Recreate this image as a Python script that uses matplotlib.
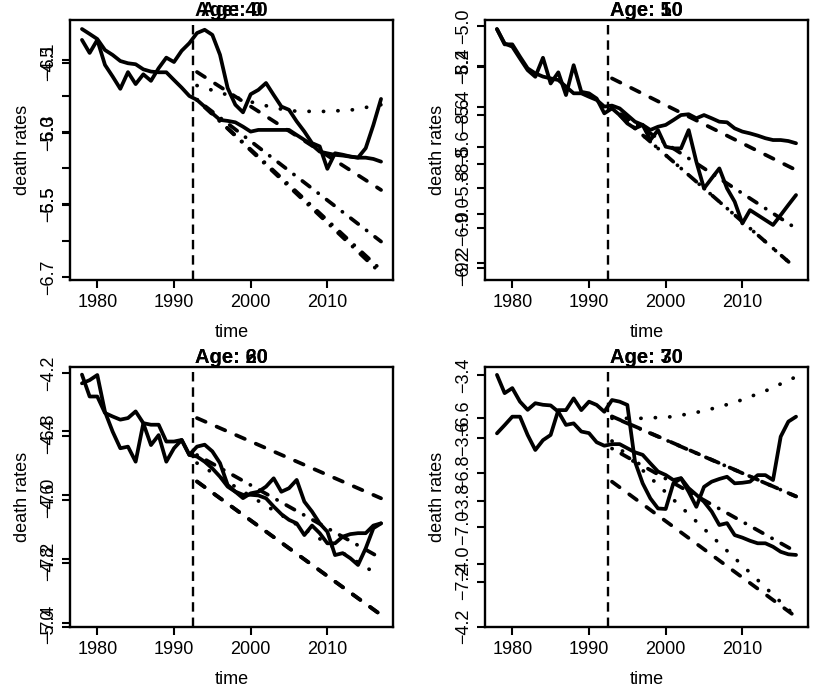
import numpy as np
import matplotlib
matplotlib.use("Agg")
import matplotlib.pyplot as plt

plt.rcParams["font.family"] = ["Liberation Sans", "DejaVu Sans"]

years = np.arange(1978, 2018)
fc_years = [1993, 2017]
curve_years = [1993, 1997, 2001, 2005, 2009, 2013, 2017]
XTICKS = [1980, 1990, 2000, 2010]
JUMP_OFF = 1992.5
M = "\u2212"

# ---- top-left: ages 0 and 40 ----
obs_age0 = [-4.259, -4.294, -4.330, -4.408, -4.443, -4.486, -4.502, -4.509, -4.545, -4.561,
            -4.566, -4.566, -4.621, -4.675, -4.734, -4.762, -4.810, -4.857, -4.904, -4.911,
            -4.921, -4.952, -4.987, -4.975, -4.975, -4.975, -4.975, -4.975, -5.011, -5.046,
            -5.082, -5.129, -5.141, -5.152, -5.157, -5.165, -5.172, -5.172, -5.181, -5.200]
obs_age40 = [-6.045, -6.081, -6.045, -6.114, -6.146, -6.180, -6.134, -6.167, -6.140, -6.158,
             -6.123, -6.094, -6.106, -6.075, -6.054, -6.026, -6.017, -6.031, -6.086, -6.178,
             -6.224, -6.245, -6.195, -6.183, -6.164, -6.197, -6.229, -6.238, -6.270, -6.298,
             -6.330, -6.339, -6.401, -6.358, -6.362, -6.367, -6.370, -6.344, -6.280, -6.208]
fc_age0_dashed = [-4.564, -5.401]
fc_age0_dashdot1 = [-4.762, -5.767]
fc_age0_dashdot2 = [-4.762, -5.968]
fc_age40_dotted = [-6.171, -6.197, -6.222, -6.241, -6.243, -6.239, -6.224]
fc_age40_dashdot = [-6.210, -6.690]
ylim_age0 = (-6.040, -4.195)
ylim_age40 = (-6.708, -5.990)
yticks_age0 = [-4.5, -5.0, -5.5]
ylabels_age0 = [M + "4.5", M + "5.0", M + "5.5"]
yticks_age40 = [-6.1, -6.2, -6.3, -6.4, -6.5, -6.6, -6.7]
ylabels_age40 = [M + "6.1", "", M + "6.3", "", M + "6.5", "", M + "6.7"]

# ---- top-right: ages 10 and 50 ----
obs_age10 = [-8.252, -8.310, -8.323, -8.371, -8.418, -8.445, -8.368, -8.472, -8.427, -8.519,
             -8.398, -8.506, -8.512, -8.533, -8.593, -8.573, -8.600, -8.634, -8.654, -8.640,
             -8.701, -8.661, -8.728, -8.735, -8.735, -8.661, -8.789, -8.897, -8.856, -8.816,
             -8.897, -8.951, -9.039, -8.985, -9.005, -9.025, -9.045, -9.005, -8.964, -8.924]
obs_age50 = [-5.013, -5.089, -5.089, -5.150, -5.208, -5.233, -5.249, -5.258, -5.266, -5.299,
             -5.332, -5.332, -5.349, -5.365, -5.398, -5.393, -5.407, -5.440, -5.473, -5.489,
             -5.514, -5.498, -5.489, -5.465, -5.440, -5.436, -5.456, -5.440, -5.456, -5.473,
             -5.476, -5.506, -5.522, -5.531, -5.542, -5.555, -5.564, -5.564, -5.569, -5.580]
fc_age10_dashdot = [-8.573, -9.059]
fc_age10_dotted = [-8.573, -9.221]
fc_age50_dashed = [-5.258, -5.713]
fc_age50_dashdot = [-5.407, -6.201]
ylim_age10 = (-9.268, -8.215)
ylim_age50 = (-6.259, -4.968)
yticks_age10 = [-8.4, -8.6, -8.8, -9.0, -9.2]
ylabels_age10 = [M + "8.4", M + "8.6", M + "8.8", M + "9.0", M + "9.2"]
yticks_age50 = [-5.0, -5.2, -5.4, -5.6, -5.8, -6.0, -6.2]
ylabels_age50 = [M + "5.0", M + "5.2", M + "5.4", M + "5.6", M + "5.8", M + "6.0", M + "6.2"]

# ---- bottom-left: ages 20 and 60 ----
obs_age20 = [-6.651, -6.641, -6.625, -6.740, -6.802, -6.854, -6.849, -6.896, -6.776, -6.844,
             -6.813, -6.896, -6.854, -6.828, -6.875, -6.880, -6.896, -6.917, -6.943, -6.974,
             -6.990, -7.010, -6.995, -6.990, -6.974, -6.948, -6.990, -6.979, -6.953, -7.021,
             -7.052, -7.089, -7.115, -7.188, -7.182, -7.198, -7.219, -7.167, -7.104, -7.089]
obs_age60 = [-4.205, -4.274, -4.274, -4.326, -4.337, -4.347, -4.342, -4.321, -4.358, -4.363,
             -4.363, -4.416, -4.416, -4.411, -4.458, -4.432, -4.426, -4.447, -4.484, -4.553,
             -4.574, -4.584, -4.584, -4.586, -4.595, -4.621, -4.645, -4.663, -4.674, -4.711,
             -4.681, -4.705, -4.737, -4.737, -4.716, -4.708, -4.705, -4.705, -4.681, -4.674]
fc_age20_dashed = [-6.958, -7.375]
fc_age20_dashdot = [-6.875, -7.198]
fc_age60_dashed_hi = [-4.342, -4.595]
fc_age60_dotted = [-4.484, -4.842]
fc_age60_dashed_lo = [-4.542, -4.963]
ylim_age20 = (-7.412, -6.599)
ylim_age60 = (-5.000, -4.180)
yticks_age20 = [-6.8, -7.0, -7.2, -7.4]
ylabels_age20 = [M + "6.8", M + "7.0", M + "7.2", M + "7.4"]
yticks_age60 = [-4.2, -4.4, -4.6, -4.8, -5.0]
ylabels_age60 = [M + "4.2", M + "4.4", M + "4.6", M + "4.8", M + "5.0"]

# ---- bottom-right: ages 30 and 70 ----
obs_age30 = [-6.656, -6.626, -6.595, -6.595, -6.662, -6.717, -6.681, -6.662, -6.571, -6.571,
             -6.528, -6.571, -6.540, -6.552, -6.577, -6.534, -6.540, -6.552, -6.760, -6.839,
             -6.894, -6.931, -6.933, -6.839, -6.821, -6.870, -6.925, -6.852, -6.833, -6.823,
             -6.815, -6.839, -6.837, -6.833, -6.809, -6.809, -6.827, -6.668, -6.613, -6.595]
obs_age70 = [-3.400, -3.458, -3.442, -3.485, -3.511, -3.490, -3.495, -3.497, -3.517, -3.559,
             -3.554, -3.580, -3.585, -3.614, -3.625, -3.620, -3.620, -3.633, -3.646, -3.654,
             -3.681, -3.707, -3.718, -3.734, -3.728, -3.760, -3.781, -3.803, -3.834, -3.877,
             -3.871, -3.909, -3.917, -3.927, -3.935, -3.935, -3.946, -3.962, -3.970, -3.972]
fc_age30_dotted = [-6.601, -6.601, -6.595, -6.574, -6.543, -6.501, -6.449]
fc_age30_dashdot = [-6.595, -6.887]
fc_age30_dashed = [-6.833, -7.328]
fc_age70_dashed = [-3.532, -3.786]
fc_age70_dashdot = [-3.634, -3.962]
fc_age70_dotted = [-3.610, -4.168]
ylim_age30 = (-7.364, -6.412)
ylim_age70 = (-4.200, -3.374)
yticks_age30 = [-6.6, -6.8, -7.0, -7.2]
ylabels_age30 = [M + "6.6", M + "6.8", M + "7.0", M + "7.2"]
yticks_age70 = [-3.4, -3.6, -3.8, -4.0, -4.2]
ylabels_age70 = [M + "3.4", M + "3.6", M + "3.8", M + "4.0", M + "4.2"]

LW = 2.7
STYLES = {
    "solid": (0, ()),
    "dashed": (0, (2.5, 3.2)),
    "dotted": (0, (0.05, 3.8)),
    "dashdot": (0, (0.05, 2.8, 2.5, 2.8)),
}


def draw_series(ax, x, y, style):
    ax.plot(x, y, color="black", lw=LW, linestyle=STYLES[style],
            solid_capstyle="round", dash_capstyle="round", solid_joinstyle="round")


def setup_axis(ax, ylim, ticks, labels):
    ax.set_ylim(*ylim)
    ax.set_xlim(1976.44, 2018.56)
    ax.set_yticks(ticks)
    ax.set_yticklabels(labels, rotation=90, va="center")
    ax.tick_params(axis="y", length=6, width=1.5, labelsize=13, pad=3)


def panel(rect, age_a, age_b, series_a, series_b, axis_a, axis_b):
    ax = fig.add_axes(rect)
    ax2 = fig.add_axes(rect)
    ax2.patch.set_visible(False)
    for s in ax.spines.values():
        s.set_linewidth(1.7)
    for s in ax2.spines.values():
        s.set_visible(False)

    for x, y, st in series_a:
        draw_series(ax, x, y, st)
    for x, y, st in series_b:
        draw_series(ax2, x, y, st)
    setup_axis(ax, *axis_a)
    setup_axis(ax2, *axis_b)

    ax.axvline(JUMP_OFF, color="black", lw=1.7, linestyle=(0, (4, 2.5)))
    ax.set_xticks(XTICKS)
    ax.tick_params(axis="x", length=6, width=1.5, labelsize=13, pad=4)
    ax2.set_xticks([])
    ax.set_xlabel("time", fontsize=13, labelpad=9.5)
    ax.set_ylabel("death rates", fontsize=13, labelpad=7)
    ax.set_title(f"Age: {age_a}", fontsize=14.5, fontweight="bold", pad=2)
    ax2.set_title(f"Age: {age_b}", fontsize=14.5, fontweight="bold", pad=2)


fig = plt.figure(figsize=(8.3, 6.91), dpi=100)

x0_left, x0_right, w = 70 / 830, 485 / 830, 323 / 830
y0_top, y0_bot, h = 1 - 280 / 691, 1 - 626.7 / 691, 260 / 691

panel([x0_left, y0_top, w, h], 0, 40,
      [(years, obs_age0, "solid"),
       (fc_years, fc_age0_dashed, "dashed"),
       (fc_years, fc_age0_dashdot1, "dashdot"),
       (fc_years, fc_age0_dashdot2, "dashdot")],
      [(years, obs_age40, "solid"),
       (curve_years, fc_age40_dotted, "dotted"),
       (fc_years, fc_age40_dashdot, "dashdot")],
      (ylim_age0, yticks_age0, ylabels_age0),
      (ylim_age40, yticks_age40, ylabels_age40))

panel([x0_right, y0_top, w, h], 10, 50,
      [(years, obs_age10, "solid"),
       (fc_years, fc_age10_dashdot, "dashdot"),
       (fc_years, fc_age10_dotted, "dotted")],
      [(years, obs_age50, "solid"),
       (fc_years, fc_age50_dashed, "dashed"),
       (fc_years, fc_age50_dashdot, "dashdot")],
      (ylim_age10, yticks_age10, ylabels_age10),
      (ylim_age50, yticks_age50, ylabels_age50))

panel([x0_left, y0_bot, w, h], 20, 60,
      [(years, obs_age20, "solid"),
       (fc_years, fc_age20_dashed, "dashed"),
       (fc_years, fc_age20_dashdot, "dashdot")],
      [(years, obs_age60, "solid"),
       (fc_years, fc_age60_dashed_hi, "dashed"),
       (fc_years, fc_age60_dotted, "dotted"),
       (fc_years, fc_age60_dashed_lo, "dashed")],
      (ylim_age20, yticks_age20, ylabels_age20),
      (ylim_age60, yticks_age60, ylabels_age60))

panel([x0_right, y0_bot, w, h], 30, 70,
      [(years, obs_age30, "solid"),
       (curve_years, fc_age30_dotted, "dotted"),
       (fc_years, fc_age30_dashdot, "dashdot"),
       (fc_years, fc_age30_dashed, "dashed")],
      [(years, obs_age70, "solid"),
       (fc_years, fc_age70_dashed, "dashed"),
       (fc_years, fc_age70_dashdot, "dashdot"),
       (fc_years, fc_age70_dotted, "dotted")],
      (ylim_age30, yticks_age30, ylabels_age30),
      (ylim_age70, yticks_age70, ylabels_age70))

fig.savefig("out.png", dpi=100)
